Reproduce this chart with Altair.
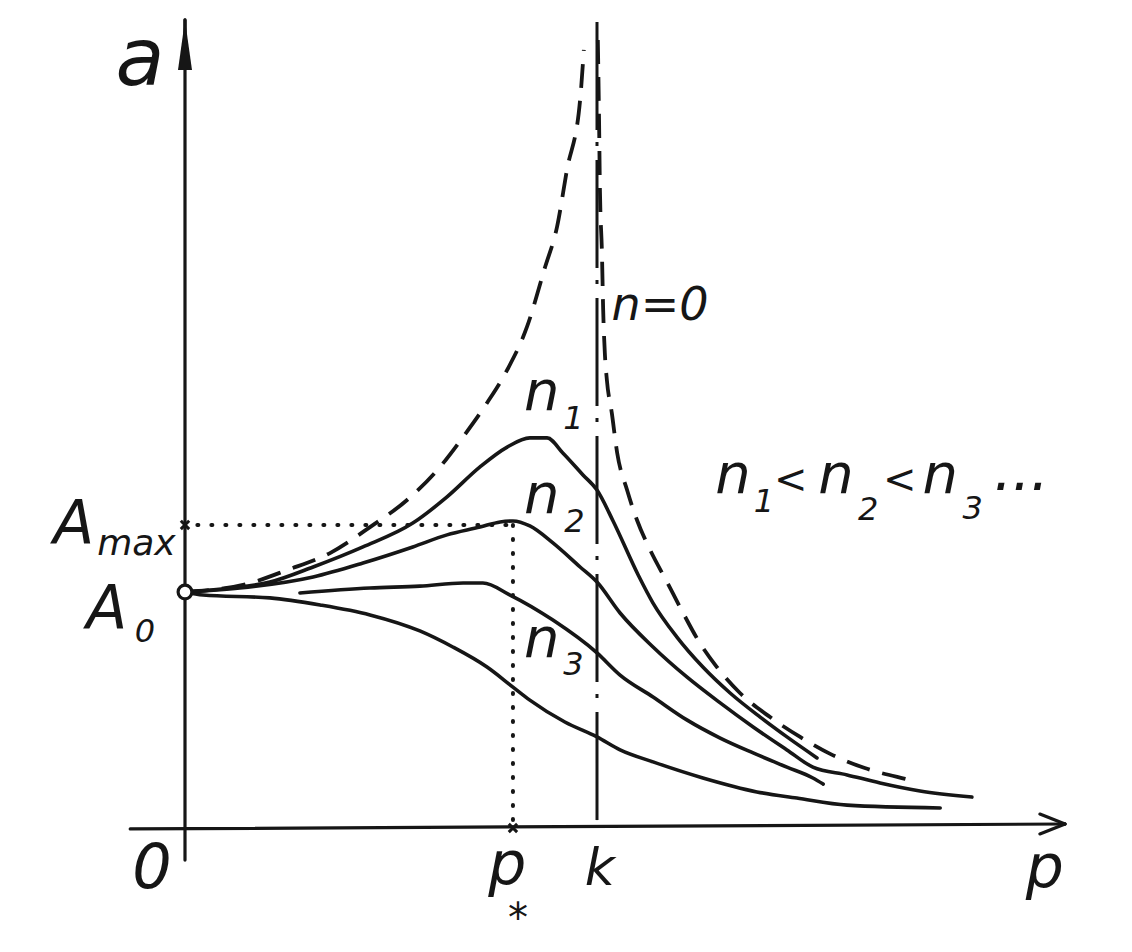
import altair as alt
import pandas as pd

# ---- data (p in units of k, a in units of A0) ----
n0_left_p = [0.000, 0.158, 0.248, 0.352, 0.449, 0.539, 0.619, 0.675, 0.733, 0.782, 0.830, 0.874, 0.903, 0.927, 0.959, 0.968]
n0_left_a = [1.000, 1.038, 1.093, 1.165, 1.275, 1.390, 1.530, 1.657, 1.801, 1.941, 2.123, 2.377, 2.547, 2.788, 3.085, 3.297]
n0_right_p = [1.002, 1.005, 1.007, 1.012, 1.015, 1.019, 1.024, 1.036, 1.049, 1.073, 1.097, 1.129, 1.170, 1.209,
              1.245, 1.291, 1.347, 1.420, 1.493, 1.566, 1.650, 1.748, 1.779]
n0_right_a = [3.339, 3.000, 2.716, 2.436, 2.195, 2.013, 1.898, 1.758, 1.589, 1.432, 1.305, 1.178, 1.042, 0.911,
              0.797, 0.682, 0.572, 0.470, 0.386, 0.314, 0.254, 0.208, 0.195]

n1_p = [0.000, 0.109, 0.206, 0.311, 0.432, 0.553, 0.636, 0.716, 0.782, 0.837, 0.879, 0.917, 0.966, 1.000,
        1.039, 1.100, 1.136, 1.194, 1.257, 1.323, 1.396, 1.461, 1.534]
n1_a = [1.000, 1.017, 1.042, 1.106, 1.191, 1.292, 1.403, 1.530, 1.614, 1.653, 1.653, 1.589, 1.496, 1.432,
        1.301, 1.072, 0.953, 0.809, 0.682, 0.572, 0.470, 0.386, 0.297]

n2_p = [0.000, 0.133, 0.311, 0.432, 0.553, 0.636, 0.716, 0.765, 0.796, 0.837, 0.893, 0.959, 1.000, 1.056,
        1.136, 1.218, 1.299, 1.379, 1.461, 1.524, 1.607, 1.687, 1.784, 1.910]
n2_a = [1.000, 1.017, 1.064, 1.123, 1.191, 1.242, 1.275, 1.297, 1.301, 1.280, 1.208, 1.106, 1.042, 0.911,
        0.767, 0.640, 0.530, 0.428, 0.331, 0.258, 0.225, 0.191, 0.157, 0.131]

n3_p = [0.279, 0.449, 0.570, 0.675, 0.723, 0.789, 0.893, 1.000, 1.056, 1.136, 1.218, 1.299, 1.379, 1.461, 1.524, 1.549]
n3_a = [0.996, 1.017, 1.025, 1.038, 1.038, 0.987, 0.881, 0.742, 0.648, 0.555, 0.458, 0.381, 0.318, 0.258, 0.212, 0.186]

n4_p = [0.000, 0.044, 0.206, 0.328, 0.449, 0.570, 0.650, 0.733, 0.796, 0.837, 0.922, 1.000, 1.056, 1.136,
        1.257, 1.388, 1.485, 1.607, 1.833]
n4_a = [1.000, 0.987, 0.975, 0.945, 0.903, 0.835, 0.767, 0.682, 0.597, 0.542, 0.449, 0.386, 0.331, 0.280,
        0.212, 0.153, 0.127, 0.097, 0.085]

K = 1.0
P_STAR = 0.796
A_MAX = 1.284
A0 = 1.0

# ---- build tables ----
def curve(name, ps, as_):
    return pd.DataFrame({"curve": name, "p": ps, "a": as_, "i": range(len(ps))})

solid = pd.concat([curve("n1", n1_p, n1_a), curve("n2", n2_p, n2_a),
                   curve("n3", n3_p, n3_a), curve("n4", n4_p, n4_a)])
dashed = pd.concat([curve("left", n0_left_p, n0_left_a), curve("right", n0_right_p, n0_right_a)])

xs = alt.Scale(domain=[-0.42961, 2.27913], nice=False, zero=False)
ys = alt.Scale(domain=[-0.49153, 3.47458], nice=False, zero=False)
INK = "#161616"

def X(f):
    return alt.X(f, type="quantitative", scale=xs, axis=None)

def Y(f):
    return alt.Y(f, type="quantitative", scale=ys, axis=None)

solid_layer = alt.Chart(solid).mark_line(
    color=INK, strokeWidth=3.6, interpolate="monotone", strokeCap="round"
).encode(x=X("p"), y=Y("a"), detail="curve:N", order="i:Q")

dashed_layer = alt.Chart(dashed).mark_line(
    color=INK, strokeWidth=3.8, interpolate="monotone", strokeDash=[24, 13]
).encode(x=X("p"), y=Y("a"), detail="curve:N", order="i:Q")

# axes
axes = pd.DataFrame({
    "p1": [0.0, -0.133, 0.000, 2.136, 2.136],
    "a1": [-0.136, -0.004, 3.424, 0.017, 0.017],
    "p2": [0.0, 2.136, 0.000, 2.075, 2.075],
    "a2": [3.424, 0.017, 3.240, 0.059, -0.025],
})
axes_layer = alt.Chart(axes).mark_rule(color=INK, strokeWidth=3.2, strokeCap="round").encode(
    x=X("p1"), y=Y("a1"), x2="p2", y2="a2")

arrow_y = alt.Chart(pd.DataFrame({"p": [0.0], "a": [3.318]})).mark_point(
    shape="M0,-1L-0.28,1L0.28,1Z", filled=True, color=INK, size=2500, opacity=1
).encode(x=X("p"), y=Y("a"))

# k line (dash-dot)
k_layer = alt.Chart(pd.DataFrame({"p": [K], "a": [3.415], "a2": [0.0]})).mark_rule(
    color=INK, strokeWidth=3.0, strokeDash=[108, 12, 4, 14]
).encode(x=X("p"), y=Y("a"), y2="a2")

# dotted A_max / p_* guides
guides = pd.DataFrame({"p1": [0.03, P_STAR], "a1": [A_MAX, A_MAX], "p2": [P_STAR, P_STAR], "a2": [A_MAX, 0.0]})
guide_layer = alt.Chart(guides).mark_rule(
    color=INK, strokeWidth=4, strokeDash=[1, 13], strokeCap="round"
).encode(x=X("p1"), y=Y("a1"), x2="p2", y2="a2")

# markers
cross_pts = pd.DataFrame({"p": [0.0, P_STAR], "a": [A_MAX, 0.0]})
cross_layer = alt.Chart(cross_pts).mark_point(
    shape="M-1,-1L1,1M-1,1L1,-1", filled=False, color=INK, size=70, strokeWidth=3, opacity=1
).encode(x=X("p"), y=Y("a"))

a0_layer = alt.Chart(pd.DataFrame({"p": [0.0], "a": [A0]})).mark_point(
    shape="circle", filled=True, fill="white", stroke=INK, strokeWidth=3.2, size=190, opacity=1
).encode(x=X("p"), y=Y("a"))

# labels
lab_text = ["a", "A", "max", "A", "0", "0", "p", "*", "k", "p", "n=0",
            "n", "1", "n", "2", "n", "3",
            "n", "1", "<", "n", "2", "<", "n", "3", "..."]
lab_p = [-0.109, -0.270, -0.118, -0.190, -0.097, -0.080, 0.782, 0.808, 1.007, 2.087, 1.153,
         0.866, 0.943, 0.866, 0.945, 0.866, 0.943,
         1.330, 1.405, 1.470, 1.580, 1.658, 1.735, 1.833, 1.912, 2.030]
lab_a = [3.148, 1.208, 1.157, 0.847, 0.790, -0.254, -0.240, -0.440, -0.242, -0.254, 2.153,
         1.771, 1.690, 1.335, 1.255, 0.725, 0.648,
         1.419, 1.340, 1.419, 1.419, 1.305, 1.419, 1.419, 1.310, 1.432]
lab_size = [80, 60, 36, 60, 32, 62, 60, 40, 52, 60, 46,
            56, 32, 56, 32, 56, 32,
            56, 32, 40, 56, 32, 40, 56, 32, 58]
labels = pd.DataFrame({"t": lab_text, "p": lab_p, "a": lab_a, "s": lab_size})
text_layer = alt.Chart(labels).mark_text(
    align="center", baseline="alphabetic", font="DejaVu Sans", fontStyle="italic", color=INK
).encode(x=X("p"), y=Y("a"), text="t:N", size=alt.Size("s:Q", scale=None, legend=None))

chart = alt.layer(
    guide_layer, k_layer, axes_layer, arrow_y, dashed_layer, solid_layer,
    cross_layer, a0_layer, text_layer
).properties(
    width=1116, height=936, padding=0, background="white",
    autosize=alt.AutoSizeParams(type="none")
).configure_view(stroke=None)

chart.save("out.html", embed_options={"renderer": "svg", "actions": False})
